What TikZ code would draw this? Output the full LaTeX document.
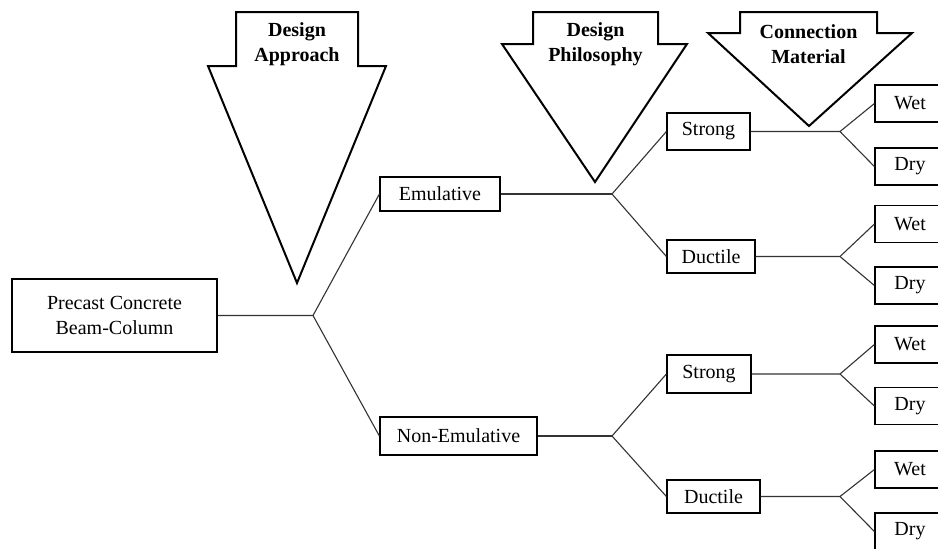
\documentclass[tikz,border=0pt]{standalone}
\usepackage{fontspec}
\setmainfont{Liberation Serif}
\usetikzlibrary{positioning}
\tikzset{
  box/.style={draw,line width=0.6pt,inner sep=0pt,font=\fontsize{10}{12.5}\selectfont,align=center},
  leaf/.style={box,minimum width=35pt,minimum height=18.5pt},
  link/.style={draw=black!80,line width=0.55pt},
  bigarrow/.style={draw,line width=1pt,line join=miter},
  head/.style={font=\fontsize{10}{12.5}\selectfont\bfseries,align=center}
}
\begin{document}
\begin{tikzpicture}[x=0.5pt,y=-0.5pt]
  \clip (0,0) rectangle (938,548);
  % block arrows with the level titles
  \foreach \n/\l/\r/\hl/\hr/\sy/\tx/\ty/\txt in {
      approach/236/358/208/386/66/297/283/{Design\\Approach},
      philosophy/533/658/502/687/44/595/182/{Design\\Philosophy},
      material/740/877/708/912/33/809/126/{Connection\\Material}} {
    \draw[bigarrow] (\l,12) -- (\r,12) -- (\r,\sy) -- (\hr,\sy) -- (\tx,\ty)
      -- (\hl,\sy) -- (\l,\sy) -- cycle;
    \node[head] (\n) at ({(\l+\r)/2},44) {\txt};
  }
  % root and approach level
  \node[box,minimum width=102.5pt,minimum height=36.5pt] (root) at (114.5,315.5) {Precast Concrete\\Beam-Column};
  \node[box,minimum width=60pt,minimum height=17pt] (emu) at (440,194) {Emulative};
  \node[box,minimum width=78.5pt,minimum height=19pt] (nonemu) at (458.5,436) {Non-Emulative};
  \coordinate (j0) at (313,315.5);
  \draw[link] (root.east) -- (j0) -- (emu.west);
  \draw[link] (j0) -- (nonemu.west);
  % philosophy level
  \coordinate (j1) at (612,194);
  \coordinate (j2) at (612,436);
  \draw[link] (emu.east) -- (j1);
  \draw[link] (nonemu.east) -- (j2);
  \foreach \p/\j/\x/\y/\w/\h/\lbl in {
      s1/j1/708.5/131.5/83/37/Strong, d1/j1/711/256.5/88/33/Ductile,
      s2/j2/709/374/84/38/Strong, d2/j2/713.5/496.5/93/33/Ductile} {
    \node[box,minimum width={0.5*\w pt},minimum height={0.5*\h pt}] (\p) at (\x,\y) {\lbl};
    \draw[link] (\j) -- (\p.west);
  }
  % connection material level
  \foreach \p/\y/\wy/\dy in {s1/131.5/103.5/166.5, d1/256.5/224/285.5,
      s2/374/344.5/406, d2/496.5/469.5/531.5} {
    \coordinate (\p j) at (840,\y);
    \node[leaf] (\p w) at (910,\wy) {Wet};
    \node[leaf] (\p d) at (910,\dy) {Dry};
    \draw[link] (\p.east) -- (\p j) -- (\p w.west);
    \draw[link] (\p j) -- (\p d.west);
  }
\end{tikzpicture}
\end{document}
